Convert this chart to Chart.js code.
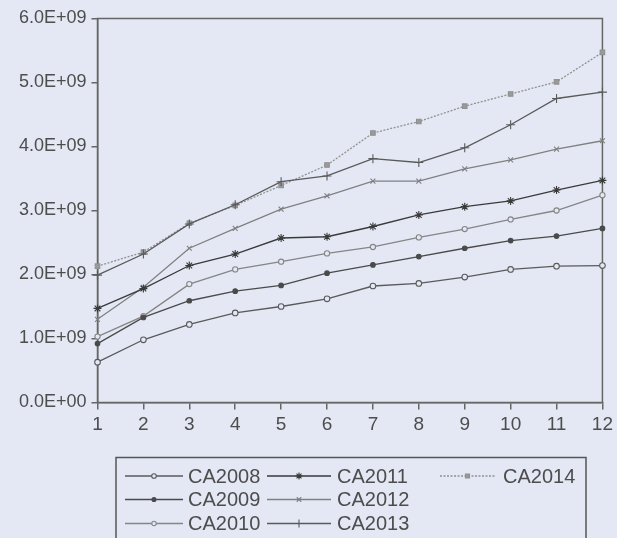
<!DOCTYPE html>
<html><head><meta charset="utf-8">
<script src="https://cdn.jsdelivr.net/npm/chart.js@4/dist/chart.umd.min.js"></script>
<style>
html,body{margin:0;padding:0;background:#e3e8f4;}
#wrap{position:relative;width:617px;height:538px;overflow:hidden;}
canvas{display:block;}
</style>
</head><body>
<div id="wrap"><canvas id="c" width="617" height="538"></canvas></div>
<script>
const categories = ['1','2','3','4','5','6','7','8','9','10','11','12'];
const yTickLabels = ['0.0E+00','1.0E+09','2.0E+09','3.0E+09','4.0E+09','5.0E+09','6.0E+09'];
const seriesNames = ['CA2008','CA2009','CA2010','CA2011','CA2012','CA2013','CA2014'];
const CA2008 = [0.63e9,0.98e9,1.22e9,1.40e9,1.50e9,1.62e9,1.82e9,1.86e9,1.96e9,2.08e9,2.13e9,2.14e9];
const CA2009 = [0.92e9,1.33e9,1.59e9,1.74e9,1.83e9,2.02e9,2.15e9,2.28e9,2.41e9,2.53e9,2.60e9,2.72e9];
const CA2010 = [1.03e9,1.35e9,1.85e9,2.08e9,2.20e9,2.33e9,2.43e9,2.58e9,2.71e9,2.86e9,3.00e9,3.24e9];
const CA2011 = [1.47e9,1.78e9,2.14e9,2.32e9,2.57e9,2.59e9,2.75e9,2.93e9,3.06e9,3.15e9,3.32e9,3.47e9];
const CA2012 = [1.30e9,1.80e9,2.41e9,2.72e9,3.02e9,3.23e9,3.46e9,3.46e9,3.65e9,3.79e9,3.96e9,4.09e9];
const CA2013 = [1.99e9,2.32e9,2.79e9,3.09e9,3.45e9,3.54e9,3.81e9,3.75e9,3.98e9,4.34e9,4.75e9,4.85e9];
const CA2014 = [2.13e9,2.35e9,2.80e9,3.08e9,3.39e9,3.71e9,4.21e9,4.39e9,4.63e9,4.82e9,5.01e9,5.47e9];

const BG = '#e3e8f4';
const AXIS = '#666';
const TEXT = '#4d4d4d';
const FONT = '"Liberation Sans", Arial, sans-serif';

const styles = [
  {color:'#5a5a5a', pointStyle:'circle', radius:2.8, fill:BG, dash:[], lr:2.3},
  {color:'#4a4a4a', pointStyle:'circle', radius:2.3, fill:'#4a4a4a', dash:[], lr:2},
  {color:'#858585', pointStyle:'circle', radius:2.6, fill:BG, dash:[], lr:2.2},
  {color:'#3a3a3a', pointStyle:'star', radius:4, fill:'#3a3a3a', dash:[], lr:3.5},
  {color:'#808080', pointStyle:'crossRot', radius:3.5, fill:'#808080', dash:[], lr:3.2},
  {color:'#5a5a5a', pointStyle:'cross', radius:4.5, fill:'#5a5a5a', dash:[], lr:4},
  {color:'#909090', pointStyle:'rect', radius:3.2, fill:'#9a9a9a', dash:[2,1.5], lr:2.8}
];
const seriesData = [CA2008,CA2009,CA2010,CA2011,CA2012,CA2013,CA2014];

const datasets = seriesNames.map((n,i)=>({
  label:n,
  data:seriesData[i],
  borderColor:styles[i].color,
  backgroundColor:styles[i].fill,
  borderWidth:1.3,
  borderDash:styles[i].dash,
  pointStyle:styles[i].pointStyle,
  pointRadius:styles[i].radius,
  pointBorderColor:styles[i].color,
  pointBackgroundColor:styles[i].fill,
  pointBorderWidth:1.1,
  tension:0,
  fill:false
}));

const framePlugin = {
  id:'frame',
  beforeDatasetsDraw(chart){
    const a = chart.chartArea, ctx = chart.ctx;
    ctx.save();
    ctx.strokeStyle = AXIS; ctx.lineWidth = 1.5;
    ctx.strokeRect(a.left, a.top, a.right-a.left, a.bottom-a.top);
    ctx.restore();
  }
};

const legendPlugin = {
  id:'customLegend',
  afterDraw(chart){
    const ctx = chart.ctx;
    ctx.save();
    ctx.strokeStyle = '#555'; ctx.lineWidth = 1.5;
    ctx.strokeRect(116, 457.5, 470, 100);
    const cols = [{x0:125,x1:183,tx:188},{x0:267,x1:331,tx:337},{x0:440,x1:495,tx:503}];
    const rows = [476, 499.5, 523.5];
    ctx.font = '20px ' + FONT;
    ctx.textBaseline = 'middle';
    seriesNames.forEach((n,i)=>{
      const c = cols[Math.floor(i/3)], y = rows[i%3], s = styles[i];
      ctx.save();
      ctx.strokeStyle = s.color; ctx.lineWidth = 1.3; ctx.setLineDash(s.dash);
      ctx.beginPath(); ctx.moveTo(c.x0,y); ctx.lineTo(c.x1,y); ctx.stroke();
      ctx.restore();
      ctx.save();
      ctx.strokeStyle = s.color; ctx.fillStyle = s.fill; ctx.lineWidth = 1.1;
      Chart.helpers.drawPoint(ctx,{pointStyle:s.pointStyle, radius:s.lr, rotation:0, borderWidth:1.1}, (c.x0+c.x1)/2, y);
      ctx.restore();
      ctx.fillStyle = TEXT;
      ctx.fillText(n, c.tx, y+1);
    });
    ctx.restore();
  }
};

new Chart(document.getElementById('c'), {
  type:'line',
  data:{labels:categories, datasets},
  options:{
    responsive:false, animation:false, devicePixelRatio:1,
    layout:{padding:{top:18.5,right:10.5,left:0,bottom:0}},
    plugins:{legend:{display:false}, tooltip:{enabled:false}},
    scales:{
      x:{
        offset:false,
        grid:{display:true, drawOnChartArea:false, drawTicks:true, tickLength:7, color:AXIS, lineWidth:1.5},
        border:{display:true, color:AXIS, width:1.5},
        ticks:{color:TEXT, font:{family:FONT, size:19}, padding:4, maxRotation:0, autoSkip:false},
        afterFit(s){ s.height = 135.5; }
      },
      y:{
        min:0, max:6e9,
        grid:{display:true, drawOnChartArea:false, drawTicks:true, tickLength:6, color:AXIS, lineWidth:1.5},
        border:{display:true, color:AXIS, width:1.5},
        ticks:{stepSize:1e9, color:TEXT, font:{family:FONT, size:18}, padding:5,
          callback:(v,i)=>yTickLabels[i]},
        afterFit(s){ s.width = 97.5; }
      }
    }
  },
  plugins:[framePlugin, legendPlugin]
});
</script>
</body></html>
